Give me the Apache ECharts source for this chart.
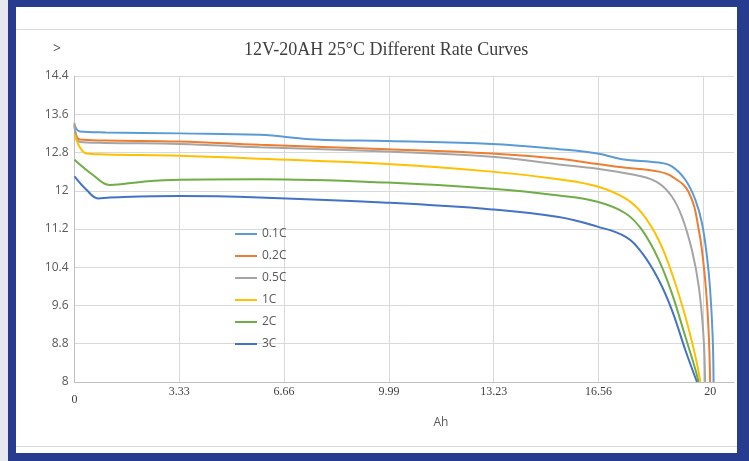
<!DOCTYPE html>
<html><head><meta charset="utf-8">
<script src="https://cdn.jsdelivr.net/npm/echarts@6/dist/echarts.min.js"></script>
<style>
html,body{margin:0;padding:0;background:#fff;}
#wrap{position:relative;width:749px;height:461px;overflow:hidden;background:#fff}
#chart{position:absolute;left:0;top:0;width:749px;height:461px}
.b{position:absolute;background:#283c8f}
.g{position:absolute;background:#d9d9d9}
</style></head><body>
<div id="wrap">
<div id="chart"></div>
<div style="position:absolute;left:0;top:0;width:8px;height:461px;background:#e8e9ef"></div>
<div class="b" style="left:8px;top:0;width:8px;height:461px"></div>
<div class="b" style="left:8px;top:0;width:741px;height:7px"></div>
<div class="b" style="left:737px;top:0;width:12px;height:461px"></div>
<div class="b" style="left:8px;top:453px;width:741px;height:8px"></div>
<div class="g" style="left:16px;top:29px;width:721px;height:1px"></div>
<div class="g" style="left:16px;top:446px;width:721px;height:1px"></div>
</div>
<script>
var seriesNames = ['0.1C','0.2C','0.5C','1C','2C','3C'];
var seriesColors = ['#5B9BD5','#ED7D31','#A5A5A5','#FFC000','#70AD47','#4472C4'];
var xTickLabels = ['0','3.33','6.66','9.99','13.23','16.56','20'];
var yTickLabels = ['8','8.8','9.6','10.4','11.2','12','12.8','13.6','14.4'];

var s01 = [[0,13.38],[0.17,13.24],[1,13.22],[3.35,13.2],[5.89,13.17],[7.69,13.07],[9.96,13.04],[13.29,12.98],[15.42,12.87],[16.65,12.78],[17.43,12.66],[18.6,12.59],[19.02,12.51],[19.45,12.23],[19.77,11.81],[19.98,11.32],[20.14,10.62],[20.24,9.93],[20.32,8.96],[20.35,8.0]];
var s02 = [[0,13.38],[0.17,13.07],[1,13.05],[3.35,13.03],[5.89,12.96],[9.96,12.87],[13.29,12.78],[15.42,12.67],[16.65,12.56],[17.43,12.49],[18.6,12.40],[19.02,12.30],[19.55,11.98],[19.88,11.18],[20.08,10.14],[20.19,9.09],[20.24,8.0]];
var s05 = [[0,13.42],[0.17,13.02],[1,13.0],[3.35,12.98],[5.89,12.91],[9.96,12.82],[13.29,12.71],[15.42,12.55],[16.65,12.46],[18.07,12.30],[18.6,12.16],[19.02,11.88],[19.34,11.46],[19.66,10.76],[19.88,9.99],[20.03,8.95],[20.08,8.0]];
var s1 = [[0,13.17],[0.38,12.78],[1,12.76],[3.35,12.73],[5.89,12.67],[9.96,12.56],[13.29,12.40],[15.42,12.24],[16.65,12.09],[17.54,11.84],[18.07,11.53],[18.6,10.97],[19.02,10.28],[19.45,9.37],[19.77,8.54],[19.93,8.0]];
var s2 = [[0,12.65],[0.59,12.33],[1.12,12.12],[2.18,12.19],[3.35,12.23],[5.89,12.24],[9.96,12.17],[13.29,12.04],[15.42,11.90],[16.65,11.77],[17.54,11.53],[18.07,11.18],[18.6,10.56],[19.02,9.86],[19.45,8.95],[19.77,8.26],[19.87,8.0]];
var s3 = [[0,12.30],[0.38,12.02],[0.75,11.84],[1.12,11.86],[3.35,11.89],[5.89,11.86],[9.96,11.75],[13.29,11.61],[15.42,11.45],[16.65,11.25],[17.54,11.04],[18.07,10.70],[18.6,10.14],[19.02,9.51],[19.45,8.67],[19.82,8.0]];
var allData = [s01, s02, s05, s1, s2, s3];

var chart = echarts.init(document.getElementById('chart'));
var serif = '"Liberation Serif","Times New Roman",serif';
var sans = '"Open Sans","Noto Sans",sans-serif';
chart.setOption({
  animation: false,
  title: [
    {text: '12V-20AH 25°C Different Rate Curves', left: 244, top: 41, padding: 0,
     textStyle: {fontFamily: serif, fontSize: 18, fontWeight: 'normal', color: '#404040'}},
    {text: '>', left: 53, top: 42, padding: 0,
     textStyle: {fontFamily: sans, fontSize: 14, fontWeight: 'normal', color: '#595959'}}
  ],
  graphic: [{type: 'text', x: 441, y: 423, style: {text: 'Ah', fontFamily: sans, fontSize: 12, fill: '#595959', align: 'center', verticalAlign: 'middle'}}],
  legend: {
    orient: 'vertical', left: 230, top: 223, itemWidth: 22, itemHeight: 2, itemGap: 10, itemTextGap: 5,
    icon: 'rect', data: seriesNames,
    textStyle: {fontFamily: sans, fontSize: 12, color: '#595959'}
  },
  grid: [
    {left: 74.5, right: 15, top: 76, bottom: 79},
    {left: 74.5, right: 45.7, top: 76, bottom: 79}
  ],
  xAxis: [
    {type: 'value', gridIndex: 0, min: 0, max: 21,
     axisLine: {show: true, lineStyle: {color: '#bfbfbf', width: 1}},
     axisTick: {show: false}, axisLabel: {show: false}, splitLine: {show: false}},
    {type: 'value', gridIndex: 1, min: 0, max: 19.98, interval: 3.33,
     axisLine: {show: false}, axisTick: {show: false},
     splitLine: {show: true, lineStyle: {color: '#d9d9d9', width: 1}},
     axisLabel: {show: true, margin: 4, showMinLabel: true, showMaxLabel: true,
       formatter: function (v) {
         var i = Math.round(v / 3.33);
         var t = xTickLabels[i];
         if (i === 0) return '{z|' + t + '}';
         if (i === xTickLabels.length - 1) return '{t|' + t + '}';
         return '{n|' + t + '}';
       },
       rich: {
         n: {fontFamily: serif, fontSize: 12, color: '#404040', lineHeight: 12},
         z: {fontFamily: serif, fontSize: 12, color: '#404040', lineHeight: 28},
         t: {fontFamily: serif, fontSize: 12, color: '#404040', lineHeight: 12, padding: [0, 0, 0, 14]}
       }}}
  ],
  yAxis: [
    {type: 'value', gridIndex: 0, min: 8, max: 14.4, interval: 0.8,
     axisLine: {show: true, lineStyle: {color: '#bfbfbf', width: 1}},
     axisTick: {show: false},
     splitLine: {show: true, lineStyle: {color: '#d9d9d9', width: 1}},
     axisLabel: {margin: 6, fontFamily: sans, fontSize: 12, color: '#595959',
       formatter: function (v) { return yTickLabels[Math.round((v - 8) / 0.8)]; }}},
    {type: 'value', gridIndex: 1, min: 8, max: 14.4, interval: 0.8, show: false}
  ],
  series: seriesNames.map(function (n, i) {
    return {
      name: n, type: 'line', xAxisIndex: 0, yAxisIndex: 0,
      data: allData[i], showSymbol: false, smooth: 0.4,
      color: seriesColors[i],
      lineStyle: {width: 2, color: seriesColors[i]}
    };
  })
});
</script>
</body></html>
